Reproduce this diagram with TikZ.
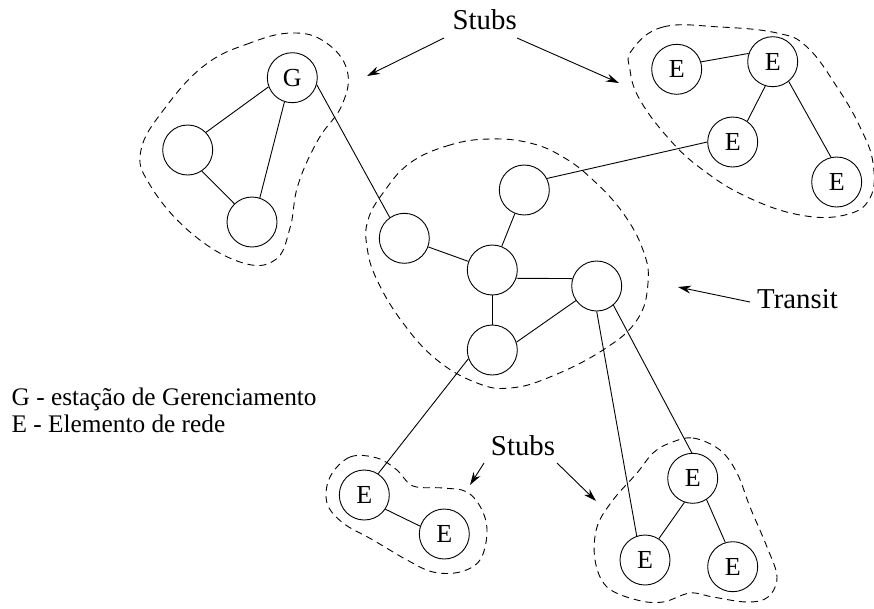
\documentclass[tikz,border=0pt]{standalone}
\usepackage{fontspec}
\setmainfont{Liberation Serif}
\usetikzlibrary{arrows.meta}
\begin{document}
\begin{tikzpicture}[x=1pt,y=-1pt,
  netnode/.style={circle,draw,line width=0.9pt,minimum size=50pt,inner sep=0pt,
    font=\fontsize{26}{31}\selectfont},
  link/.style={line width=0.9pt},
  dashblob/.style={line width=0.9pt,dash pattern=on 7pt off 5pt},
  pointer/.style={line width=0.9pt,-{Stealth[length=13pt,width=8pt]}},
  lbl/.style={inner sep=0pt,font=\fontsize{28.8}{34}\selectfont},
  legend/.style={inner sep=0pt,anchor=base west,font=\fontsize{25.3}{30}\selectfont}]
\useasboundingbox (0,0) rectangle (874,608);

% management stub
\node[netnode] (G) at (292.3,77.7) {G};
\node[netnode] (A) at (187.7,150) {};
\node[netnode] (B) at (252,222) {};

% transit domain
\node[netnode] (T1) at (524.3,190) {};
\node[netnode] (T2) at (404.3,238.3) {};
\node[netnode] (T3) at (492.3,270) {};
\node[netnode] (T4) at (596.7,286) {};
\node[netnode] (T5) at (492.3,350) {};

% upper right stub
\node[netnode] (E1) at (676.7,69.3) {E};
\node[netnode] (E2) at (772.7,61.7) {E};
\node[netnode] (E3) at (732.7,142) {E};
\node[netnode] (E4) at (836.7,182) {E};

% lower left stub
\node[netnode] (E5) at (364.3,495) {E};
\node[netnode] (E6) at (444.3,534) {E};

% lower right stub
\node[netnode] (E7) at (692.7,478.3) {E};
\node[netnode] (E8) at (645,560) {E};
\node[netnode] (E9) at (732.7,566.7) {E};

% links
\draw[link] (G.201) -- (A.44);
\draw[link] (G.252) -- (B.72);
\draw[link] (A.-56) -- (B.134);
\draw[link] (G.-16) -- (T2.125);
\draw[link] (T2) -- (T3);
\draw[link] (T1) -- (T3);
\draw[link] (T3.-19) -- (T4.163);
\draw[link] (T3) -- (T5);
\draw[link] (T5.18) -- (T4.215);
\draw[link] (T1.27) -- (E3.180);
\draw[link] (E1.17) -- (E2.161);
\draw[link] (E2.253) -- (E3.55);
\draw[link] (E2.-51) -- (E4.103);
\draw[link] (T5.200) -- (E5.57);
\draw[link] (E5.-34) -- (E6.162);
\draw[link] (T4.-49) -- (E7.92);
\draw[link] (T4.270) -- (E8.109);
\draw[link] (E7.251) -- (E8.57);
\draw[link] (E7.-57) -- (E9.107);

% domain outlines
\draw[dashblob] plot[smooth cycle,tension=0.7] coordinates {
  (292,33) (250,43) (205,65) (165,108) (141,150) (150,185) (190,232)
  (240,262) (275,260) (290,228) (298,185) (318,140) (342,105) (347,70) (325,42)};
\draw[dashblob] plot[smooth cycle,tension=0.7] coordinates {
  (632,50) (663,27) (720,27) (777,33) (807,47) (837,87) (860,127)
  (873,163) (870,198) (845,215) (800,215) (747,197) (703,170) (670,140) (640,100) (630,70)};
\draw[dashblob] plot[smooth cycle,tension=0.7] coordinates {
  (490,139) (450,145) (410,163) (383,193) (368,220) (367,247) (377,280)
  (403,323) (437,360) (477,383) (510,388) (550,377) (603,350) (637,320)
  (648,283) (643,250) (623,213) (593,180) (563,157) (530,143)};
\draw[dashblob] plot[smooth cycle,tension=0.6] coordinates {
  (330,477) (350,457) (377,458) (397,470) (413,486) (443,488) (467,492)
  (482,510) (487,533) (480,560) (460,572) (433,572) (407,560) (373,540)
  (343,523) (327,503)};
\draw[dashblob] plot[smooth cycle,tension=0.6] coordinates {
  (670,443) (693,438) (720,450) (737,473) (750,507) (767,547) (777,577)
  (768,597) (747,602) (713,597) (690,593) (663,602) (637,600) (607,587)
  (595,560) (597,527) (613,500) (637,473) (653,453)};

% labels
\node[lbl,anchor=base] (stubsTop) at (484.7,29.3) {Stubs};
\node[lbl,anchor=base] (stubsBot) at (523,455) {Stubs};
\node[lbl,anchor=base west] (transit) at (757,308.3) {Transit};
\node[legend] (legG) at (11.5,405.7) {G - estação de Gerenciamento};
\node[legend] (legE) at (11.5,432.7) {E - Elemento de rede};

% pointers
\coordinate (p1) at (444,38);  \coordinate (q1) at (367,76);
\coordinate (p2) at (517,38);  \coordinate (q2) at (619,83);
\coordinate (p3) at (484,463); \coordinate (q3) at (470,485);
\coordinate (p4) at (557,463); \coordinate (q4) at (596,501);
\coordinate (p5) at (750,302); \coordinate (q5) at (678,287);
\draw[pointer] (p1) -- (q1);
\draw[pointer] (p2) -- (q2);
\draw[pointer] (p3) -- (q3);
\draw[pointer] (p4) -- (q4);
\draw[pointer] (p5) -- (q5);
\end{tikzpicture}
\end{document}
